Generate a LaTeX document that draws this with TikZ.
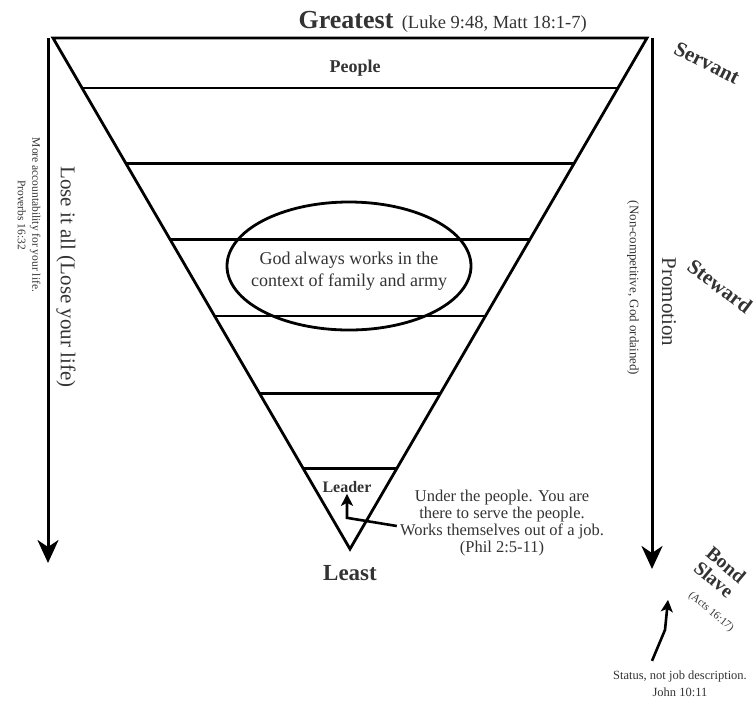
\documentclass[tikz,border=0pt]{standalone}
\usepackage{fontspec}
\setmainfont{Liberation Serif}
\usetikzlibrary{positioning,calc,arrows.meta}
\definecolor{inkgray}{HTML}{333333}
\tikzset{LEVEL/.style={line width=2.8pt, draw=black}}
\tikzset{TITLE/.style={font=\bfseries\fontsize{26}{28}\selectfont, text=inkgray, inner sep=1pt}}
\tikzset{REF/.style={font=\fontsize{18.5}{20}\selectfont, text=inkgray, inner sep=1pt}}
\tikzset{ROWLABEL/.style={font=\bfseries\fontsize{16}{18}\selectfont, text=inkgray, inner sep=1pt}}
\tikzset{RANK/.style={font=\bfseries\fontsize{21}{20}\selectfont, text=inkgray, inner sep=1pt, align=center}}
\tikzset{NOTE/.style={text=inkgray, align=center, inner sep=1pt}}
\tikzset{SIDE/.style={font=\fontsize{21}{23}\selectfont, text=inkgray, rotate=-90, inner sep=1pt}}
\tikzset{SIDENOTE/.style={text=inkgray, rotate=-90, align=center, inner sep=1pt}}
\tikzset{ARROW/.style={line width=3pt, -{Stealth[length=23pt,width=21pt,inset=7pt]}}}
\tikzset{POINTER/.style={line width=2.6pt, line join=miter, -{Stealth[length=12pt,width=12pt,inset=3pt]}}}

\begin{document}
\begin{tikzpicture}[x=1pt,y=-1pt]
\useasboundingbox (0,0) rectangle (754,702);

% the upside-down pyramid
\coordinate (c_top_left) at (53,38);
\coordinate (c_top_right) at (647,38);
\coordinate (c_bottom) at (350,549);
\draw[LEVEL, line join=miter] (c_top_left) -- (c_top_right) -- (c_bottom) -- cycle;
\foreach \t in {0.098,0.245,0.395,0.544,0.695,0.842}
  \draw[LEVEL] ($(c_top_left)!\t!(c_bottom)$) -- ($(c_top_right)!\t!(c_bottom)$);

\node[TITLE, anchor=base] (n_greatest) at (346,28) {Greatest};
\node[REF, anchor=base west] (n_greatest_ref) at ($(n_greatest.base east)+(6,0)$) {(Luke 9:48, Matt 18:1-7)};

\node[ROWLABEL, font=\bfseries\fontsize{18}{20}\selectfont] (n_people) at (355,68) {People};

\node[NOTE, font=\fontsize{18}{22}\selectfont] (n_family) at (349,271) {God always works in the\\context of family and army};
\draw[LEVEL] ($(n_family.center)+(0,-5)$) ellipse [x radius=122, y radius=64];

\node[ROWLABEL] (n_leader) at (347,487) {Leader};
\node[TITLE, font=\bfseries\fontsize{23}{25}\selectfont, anchor=base] (n_least) at (350,580) {Least};

\node[NOTE, font=\fontsize{16.5}{16.7}\selectfont] (n_leader_note) at (502,523) {Under the people. You are\\there to serve the people.\\Works themselves out of a job.\\(Phil 2:5-11)};
\coordinate (c_leader_bend) at ($(n_leader.south)+(0,24)$);
\draw[POINTER] ($(n_leader_note.west)+(-2,3)$) -- (c_leader_bend) -- (n_leader.south);

% left side
\coordinate (c_lose_top) at (48,38);
\coordinate (c_lose_end) at (48,563);
\draw[ARROW] (c_lose_top) -- (c_lose_end);
\node[SIDE] (n_lose) at (66,277) {Lose it all (Lose your life)};
\node[SIDENOTE, font=\fontsize{11.5}{14.5}\selectfont] (n_account) at (29,215) {More accountability for your life.\\Proverbs 16:32};

% right side
\coordinate (c_promo_top) at (652,38);
\coordinate (c_promo_end) at (652,569);
\draw[ARROW] (c_promo_top) -- (c_promo_end);
\node[SIDE] (n_promotion) at (669,302) {Promotion};
\node[SIDENOTE, font=\fontsize{13}{15}\selectfont] (n_noncomp) at (633,288) {(Non-competitive, God ordained)};

\node[RANK, rotate=-27] (n_servant) at (707,63) {Servant};
\node[RANK, rotate=-37] (n_steward) at (720,286) {Steward};
\node[RANK, font=\bfseries\fontsize{19.5}{19}\selectfont, rotate=-40] (n_bond) at (720,572) {Bond\\Slave};
\node[NOTE, font=\fontsize{11}{13}\selectfont, rotate=-40] (n_acts) at (711,612) {(Acts 16:17)};

\node[NOTE, font=\fontsize{12.5}{17}\selectfont] (n_status) at (680,684) {Status, not job description.\\John 10:11};
\coordinate (c_status_tail) at ($(n_status.north)+(-28,-9)$);
\coordinate (c_status_bend) at ($(c_status_tail)+(13,-31)$);
\draw[POINTER] (c_status_tail) -- (c_status_bend) -- ($(c_status_bend)+(3,-30)$);

\end{tikzpicture}
\end{document}
